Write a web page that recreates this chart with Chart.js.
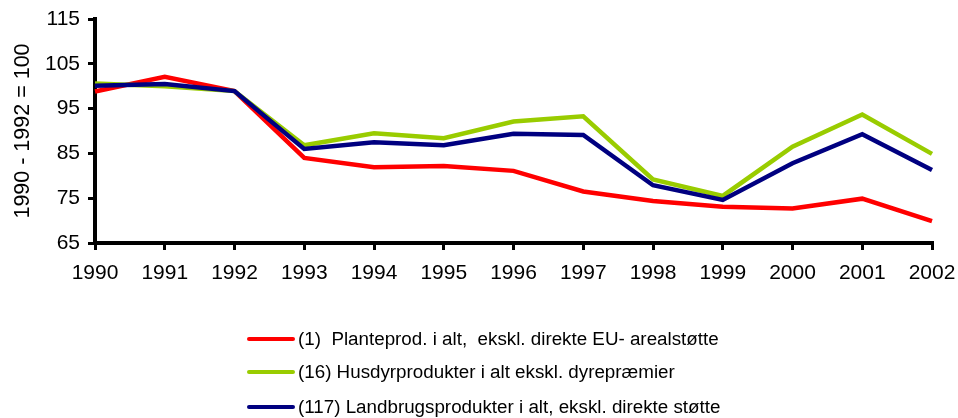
<!DOCTYPE html>
<html>
<head>
<meta charset="utf-8">
<script src="https://cdn.jsdelivr.net/npm/chart.js@4.4.0/dist/chart.umd.min.js"></script>
<style>
  html, body { margin: 0; padding: 0; background: #fff; }
  #wrap { position: relative; width: 958px; height: 418px; }
  #chart { position: absolute; left: 0; top: 0; }
  .leg { position: absolute; left: 247px; font-family: "Liberation Sans", Arial, sans-serif; font-size: 18.8px; color: #000; white-space: pre; line-height: 20px; }
  .leg span.sw { display: inline-block; width: 48px; height: 4px; border-radius: 2px; vertical-align: middle; margin-right: 3px; position: relative; top: -1px; }
</style>
</head>
<body>
<div id="wrap">
  <canvas id="chart" width="958" height="418"></canvas>
  <div id="legend"></div>
</div>
<script>
const categories = ["1990","1991","1992","1993","1994","1995","1996","1997","1998","1999","2000","2001","2002"];
const plantValues = [98.8, 102.1, 98.9, 84.0, 81.9, 82.2, 81.1, 76.5, 74.4, 73.1, 72.7, 74.9, 69.9];
const husdyrValues = [100.6, 100.0, 98.9, 86.8, 89.5, 88.4, 92.1, 93.3, 79.2, 75.5, 86.5, 93.7, 84.9];
const landbrugValues = [100.1, 100.5, 98.9, 86.0, 87.5, 86.8, 89.4, 89.1, 77.9, 74.6, 82.8, 89.3, 81.3];
const seriesNames = [
  "(1)  Planteprod. i alt,  ekskl. direkte EU- arealstøtte",
  "(16) Husdyrprodukter i alt ekskl. dyrepræmier",
  "(117) Landbrugsprodukter i alt, ekskl. direkte støtte"
];
const seriesColors = ["#FF0000", "#99CC00", "#000080"];
const yTitle = "1990 - 1992 = 100";
const yMin = 65, yMax = 115, yStep = 10;

const font = "'Liberation Sans', Arial, sans-serif";
const seriesValues = [plantValues, husdyrValues, landbrugValues];
const orders = [2, 1, 0];

new Chart(document.getElementById('chart'), {
  type: 'line',
  data: {
    labels: categories,
    datasets: seriesValues.map((v, i) => ({
      label: seriesNames[i],
      data: v,
      borderColor: seriesColors[i],
      backgroundColor: seriesColors[i],
      borderWidth: 4.5,
      pointRadius: 0,
      tension: 0,
      fill: false,
      order: orders[i]
    }))
  },
  options: {
    responsive: false,
    animation: false,
    layout: { padding: { left: 0, right: 26, top: 19, bottom: 135 } },
    plugins: { legend: { display: false }, tooltip: { enabled: false } },
    scales: {
      x: {
        offset: false,
        grid: { drawOnChartArea: false, drawTicks: true, tickLength: 7, color: '#000', lineWidth: 3 },
        border: { color: '#000', width: 4 },
        ticks: { color: '#000', font: { family: font, size: 21 }, padding: 11, maxRotation: 0, autoSkip: false },
        afterFit: s => { s.height = 40; s.paddingLeft = 0; s.paddingRight = 0; }
      },
      y: {
        min: yMin, max: yMax,
        grid: { drawOnChartArea: false, drawTicks: true, tickLength: 7, color: '#000', lineWidth: 3 },
        border: { color: '#000', width: 4 },
        ticks: { stepSize: yStep, color: '#000', font: { family: font, size: 21 }, padding: 8 },
        title: { display: true, text: yTitle, color: '#000', font: { family: font, size: 21.5 }, padding: { top: 10, bottom: 0 } },
        afterFit: s => { s.width = 95; s.paddingTop = 0; s.paddingBottom = 0; }
      }
    }
  }
});

const legendTops = [339, 372, 407];
const leg = document.getElementById('legend');
seriesNames.forEach((n, i) => {
  const d = document.createElement('div');
  d.className = 'leg';
  d.style.top = (legendTops[i] - 10) + 'px';
  const sw = document.createElement('span');
  sw.className = 'sw';
  sw.style.background = seriesColors[i];
  d.appendChild(sw);
  d.appendChild(document.createTextNode(n));
  leg.appendChild(d);
});
</script>
</body>
</html>
